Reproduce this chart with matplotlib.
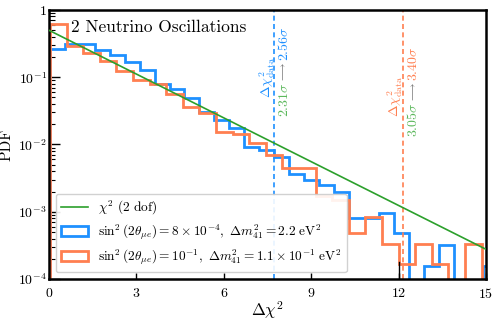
import numpy as np
import matplotlib
matplotlib.use("Agg")
import matplotlib.pyplot as plt
from matplotlib.patches import Patch
from matplotlib.lines import Line2D
from matplotlib.ticker import FuncFormatter

plt.rcParams["mathtext.fontset"] = "cm"
plt.rcParams["font.family"] = "serif"
plt.rcParams["font.serif"] = ["cmr10", "DejaVu Serif"]
plt.rcParams["axes.formatter.use_mathtext"] = True

# histogram binning
blue_start, blue_width, blue_nbins = 0.036, 0.513, 30
orange_start, orange_width, orange_nbins = 0.038, 0.5697, 27

blue_vals = [0.263, 0.312, 0.312, 0.254, 0.214, 0.170, 0.128, 0.080, 0.068,
             0.0486, 0.0308, 0.0231, 0.0174, 0.0093, 0.0083, 0.0066, 0.0037,
             0.0030, 0.0025, 0.0020, 0.00080, 0.00080, 0.00097, 0.00048, 0.0,
             0.000156, 0.00032, 0.0, 0.0, 0.000156]
orange_vals = [0.62, 0.294, 0.227, 0.174, 0.124, 0.091, 0.0786, 0.0564,
               0.0365, 0.0291, 0.0155, 0.0142, 0.0104, 0.0070, 0.0044, 0.0044,
               0.0017, 0.0015, 0.00048, 0.00085, 0.00033, 0.00017, 0.00033,
               0.00017, 0.0, 0.00033, 0.0]

blue_data = 7.73     # Delta chi^2 of data, blue model
orange_data = 12.16  # Delta chi^2 of data, orange model
blue_sig = ("2.31", "2.56")
orange_sig = ("3.05", "3.40")

c_blue = "#1E90FF"
c_orange = "#FF7F50"
c_green = "#2CA02C"
c_lgreen = "#5CB85C"

blue_edges = blue_start + blue_width * np.arange(blue_nbins + 1)
orange_edges = orange_start + orange_width * np.arange(orange_nbins + 1)

fig = plt.figure(figsize=(4.99, 3.22), dpi=100)
ax = fig.add_axes([0.098, 0.1335, 0.876, 0.8355])

x = np.linspace(0, 15, 300)
ax.plot(x, 0.5 * np.exp(-x / 2), color=c_green, lw=1.2, zorder=3)
ax.stairs(blue_vals, blue_edges, color=c_blue, lw=2.0, zorder=2)
ax.stairs(orange_vals, orange_edges, color=c_orange, lw=2.0, zorder=2)

ax.axvline(blue_data, color=c_blue, ls="--", lw=1.2, dashes=(3, 2))
ax.axvline(orange_data, color=c_orange, ls="--", lw=1.2, dashes=(3, 2))
ax.plot([12, 12], [1e-4, 1.8e-4], color="black", lw=1.0)

ax.set_yscale("log")
ax.set_xlim(0, 15)
ax.set_ylim(1e-4, 1)
ax.set_xticks([0, 3, 6, 9, 12, 15])
ax.yaxis.set_major_formatter(FuncFormatter(
    lambda v, p: "$1$" if abs(v - 1) < 1e-9 else r"$10^{%d}$" % round(np.log10(v))))
ax.tick_params(which="both", direction="in", labelsize=10)
ax.tick_params(axis="y", which="major", length=8, width=1.0, pad=1.5)
ax.tick_params(axis="y", which="minor", length=4, width=0.8)
ax.tick_params(axis="x", which="major", length=4, width=1.0, pad=6)
for s in ax.spines.values():
    s.set_linewidth(1.8)

ax.set_xlabel(r"$\Delta\chi^2$", fontsize=12)
ax.set_ylabel("PDF", fontsize=11)
ax.xaxis.set_label_coords(0.5, -0.075)
ax.yaxis.set_label_coords(-0.082, 0.5)

ax.text(0.05, 0.965, "2 Neutrino Oscillations", transform=ax.transAxes,
        fontsize=12.5, ha="left", va="top")

tr = ax.get_xaxis_transform()
fs = 10
ax_h = 0.8355 * 322


def yf(py):
    return (279 - py) / 269.0


def chain(xpos, py_bottom, parts, renderer, gap=0.5):
    y = yf(py_bottom)
    for s, c, size in parts:
        t = ax.text(xpos, y, s, color=c, rotation=90, ha="center", va="bottom",
                    fontsize=size, transform=tr)
        h = t.get_window_extent(renderer).height
        y += (h + gap) / ax_h


fig.canvas.draw()
r = fig.canvas.get_renderer()

ax.text(7.5, yf(77.5), r"$\Delta\chi^2_{\rm data}$", color=c_blue, rotation=90,
        ha="center", va="center", fontsize=fs, transform=tr)
chain(8.07, 117, [(r"$%s\sigma$" % blue_sig[0], c_lgreen, fs),
                  (r"$\longrightarrow$", "gray", 8),
                  (r"$%s\sigma$" % blue_sig[1], c_blue, fs)], r)

ax.text(11.9, yf(96), r"$\Delta\chi^2_{\rm data}$", color=c_orange, rotation=90,
        ha="center", va="center", fontsize=fs, transform=tr)
chain(12.5, 137, [(r"$%s\sigma$" % orange_sig[0], c_lgreen, fs),
                  (r"$\longrightarrow$", "gray", 8),
                  (r"$%s\sigma$" % orange_sig[1], c_orange, fs)], r)

handles = [
    Line2D([], [], color=c_green, lw=1.2),
    Patch(facecolor="none", edgecolor=c_blue, lw=2.0),
    Patch(facecolor="none", edgecolor=c_orange, lw=2.0),
]
labels = [
    r"$\chi^2$ (2 dof)",
    r"$\sin^2(2\theta_{\mu e}) = 8\times10^{-4},\ \Delta m^2_{41} = 2.2\ \mathrm{eV}^2$",
    r"$\sin^2(2\theta_{\mu e}) = 10^{-1},\ \Delta m^2_{41} = 1.1\times10^{-1}\ \mathrm{eV}^2$",
]
ax.legend(handles, labels, loc="lower left", fontsize=9.6, framealpha=0.9,
          borderaxespad=0.5, labelspacing=0.4, handleheight=0.8)

fig.savefig("out.png", dpi=100)
